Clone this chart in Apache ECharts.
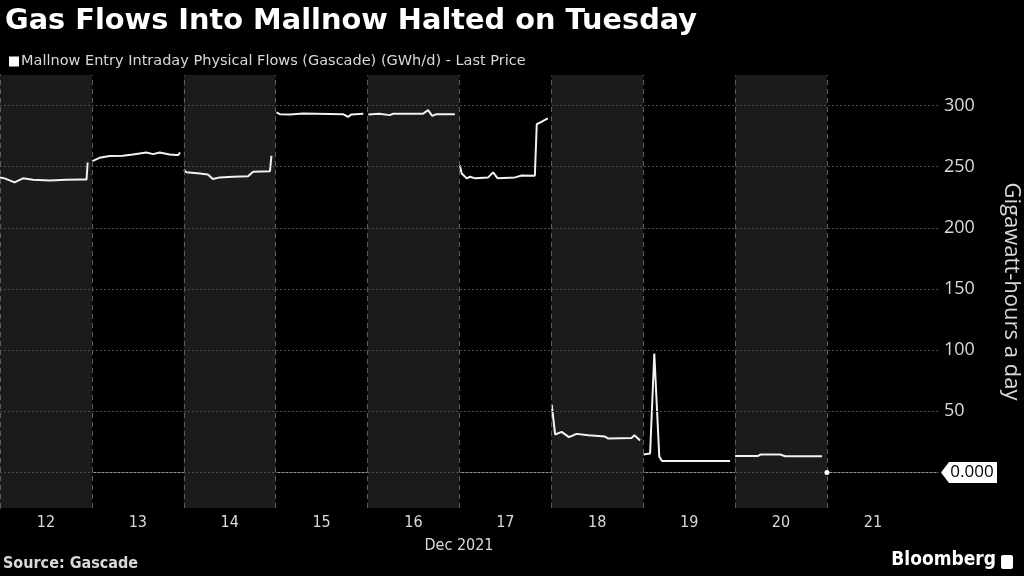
<!DOCTYPE html>
<html>
<head>
<meta charset="utf-8">
<script src="https://cdn.jsdelivr.net/npm/echarts@6/dist/echarts.min.js"></script>
<style>html,body{margin:0;padding:0;background:#000;}#c{width:1024px;height:576px;}</style>
</head>
<body>
<div id="c"></div>
<script>
// x values are hours since 12 Dec 2021 00:00
const dayLabels = ['12','13','14','15','16','17','18','19','20','21'];
const dayCenters = [12,36,60,84,108,132,156,180,204,228];
const dayBoundaries = [0,24,48,72,96,120,144,168,192,216];
const shadedDays = [[0,24],[48,72],[96,120],[144,168],[192,216]];
const xMax = 245;

const flowHours = [
  0,1.2,3.8,6,8.6,13,17.3,21.6,22.6,22.9,23.5,
  24.1,26,28.6,32.1,34.7,38.2,40,41.7,44.3,46,46.6,47,47.5,
  48.05,48.7,52.2,54.3,55.6,57.4,60.9,64.8,66.1,70.5,70.9,71.5,
  72.2,73.1,75.7,79.2,89.6,90.9,91.8,94.9,95.5,
  96.2,99,101.8,102.7,110.5,111.8,112.9,114,118.8,119.5,
  120.1,120.6,121.9,122.8,124.1,127.5,128.8,130,134.5,136.3,139.7,140.2,141.5,143.1,143.5,
  144.1,145,146.7,148.6,150.6,153.7,158,158.9,165,165.7,167.2,167.6,
  168.1,169.8,170.9,172.2,172.9,190.7,191.5,
  192,198,198.6,203.8,205.1,214.7
];
const flowValues = [
  241.3,240.5,237.2,240.5,239.3,238.8,239.3,239.6,239.5,253.5,null,
  254.6,257.3,258.7,259,260,261.7,260.3,261.7,260,259.5,259.5,261.7,null,
  247.3,245.4,244.5,243.7,239.9,241.3,241.8,242.3,245.9,246.4,259,null,
  294.4,293,292.8,293.6,293,290.8,292.8,293.3,null,
  292.8,293.3,292.2,293.3,293.3,296.3,291.6,293,293,null,
  251.3,244.5,240.5,241.8,240.5,241.3,245.4,240.5,241.3,242.9,242.6,284.9,286.8,289.5,null,
  55.6,31.1,33.2,28.9,31.6,30.5,29.4,27.8,28.3,30.5,26.2,null,
  14.7,15.5,97.3,13,9.5,9.5,null,
  13.6,13.6,14.7,14.7,13.3,13.3
];
const lastPoint = [216, 0];

const yMin = -29, yMax = 325;
const yTicks = [-25,0,25,50,75,100,125,150,175,200,225,250,275,300,325];
const yLabels = [50,100,150,200,250,300];
const gridValues = [0,50,100,150,200,250,300];

const flowData = flowHours.map((h, i) => [h, flowValues[i]]);

const chart = echarts.init(document.getElementById('c'));
const txt = '#d9d9d9';
chart.setOption({
  backgroundColor: '#000',
  animation: false,
  title: {
    text: 'Gas Flows Into Mallnow Halted on Tuesday',
    left: 0, top: 2,
    textStyle: { color: '#fff', fontSize: 28.8, fontWeight: 'bold', fontFamily: 'DejaVu Sans' }
  },
  legend: {
    left: 4, top: 49,
    icon: 'rect', itemWidth: 10, itemHeight: 10, itemGap: 4,
    data: ['Mallnow Entry Intraday Physical Flows (Gascade) (GWh/d) - Last Price'],
    textStyle: { color: txt, fontSize: 14.5, fontFamily: 'DejaVu Sans', padding: [0,0,0,-3] }
  },
  grid: { left: 0, right: 86, top: 75, bottom: 68, outerBoundsMode: 'none', containLabel: false },
  xAxis: {
    type: 'value', min: 0, max: xMax,
    axisLine: { show: true, lineStyle: { color: '#9a9a9a', width: 1 } },
    axisTick: { show: false },
    splitLine: { show: false },
    axisLabel: {
      customValues: dayCenters,
      color: txt, fontSize: 16, fontFamily: 'DejaVu Sans Condensed', margin: 7,
      formatter: v => dayLabels[dayCenters.indexOf(v)] || ''
    },
    name: 'Dec 2021', nameLocation: 'middle', nameGap: 30,
    nameTextStyle: { color: txt, fontSize: 16, fontFamily: 'DejaVu Sans Condensed', padding: [0, 20, 0, 0] }
  },
  yAxis: {
    type: 'value', position: 'right', min: yMin, max: yMax,
    axisLine: { show: true, lineStyle: { color: '#9a9a9a', width: 1 } },
    axisTick: { show: true, customValues: yTicks, length: 4, lineStyle: { color: '#9a9a9a' } },
    splitLine: { show: false },
    axisLabel: { customValues: yLabels, color: txt, fontSize: 18, fontFamily: 'Open Sans', margin: 6 },
    name: 'Gigawatt-hours a day', nameLocation: 'middle', nameRotate: -90, nameGap: 62,
    nameTextStyle: { color: txt, fontSize: 22, fontFamily: 'Open Sans' }
  },
  series: [
    {
      name: 'bands', type: 'line', data: flowData, z: 1, silent: true,
      symbol: 'none', lineStyle: { opacity: 0 }, legendHoverLink: false,
      markArea: {
        silent: true,
        itemStyle: { color: '#1b1b1b' },
        data: shadedDays.map(d => [{ xAxis: d[0] }, { xAxis: d[1] }])
      },
      markLine: {
        silent: true, symbol: 'none', animation: false,
        label: { show: false },
        data: [
          ...dayBoundaries.map(b => ({ xAxis: b, lineStyle: { color: '#5c5c5c', type: [5, 4], width: 1 } })),
          ...gridValues.map(v => ({ yAxis: v, lineStyle: { color: '#4c4c4c', type: [2, 2], width: 1 } }))
        ]
      }
    },
    {
      name: 'Mallnow Entry Intraday Physical Flows (Gascade) (GWh/d) - Last Price',
      type: 'line', data: flowData, z: 3,
      showSymbol: false, symbol: 'none', connectNulls: false,
      itemStyle: { color: '#ffffff' },
      lineStyle: { color: '#f2f2f2', width: 2 }
    },
    {
      name: 'last', type: 'scatter', data: [lastPoint], z: 10, clip: false,
      symbolSize: 5, itemStyle: { color: '#fff', opacity: 1 }, silent: true,
      markPoint: {
        silent: true,
        data: [{
          coord: [xMax, lastPoint[1]],
          symbol: 'path://M0,10 L8,0 L56,0 L56,20 L8,20 Z',
          symbolSize: [56, 21], symbolOffset: [31, 0],
          itemStyle: { color: '#fff' },
          label: { show: true, position: 'inside', formatter: lastPoint[1].toFixed(3), color: '#000', fontSize: 17, fontFamily: 'Open Sans', offset: [3, 0] }
        }]
      }
    }
  ],
  graphic: [
    { type: 'text', left: 3, top: 556, style: { text: 'Source: Gascade', fill: txt, font: 'bold 16px "DejaVu Sans Condensed"' } },
    { type: 'text', right: 28, top: 551, style: { text: 'Bloomberg', fill: '#fff', font: 'bold 19px "DejaVu Sans Condensed"' } },
    { type: 'rect', right: 11, top: 555, shape: { width: 12, height: 14, r: 2 }, style: { fill: '#fff' } }
  ]
});
</script>
</body>
</html>
